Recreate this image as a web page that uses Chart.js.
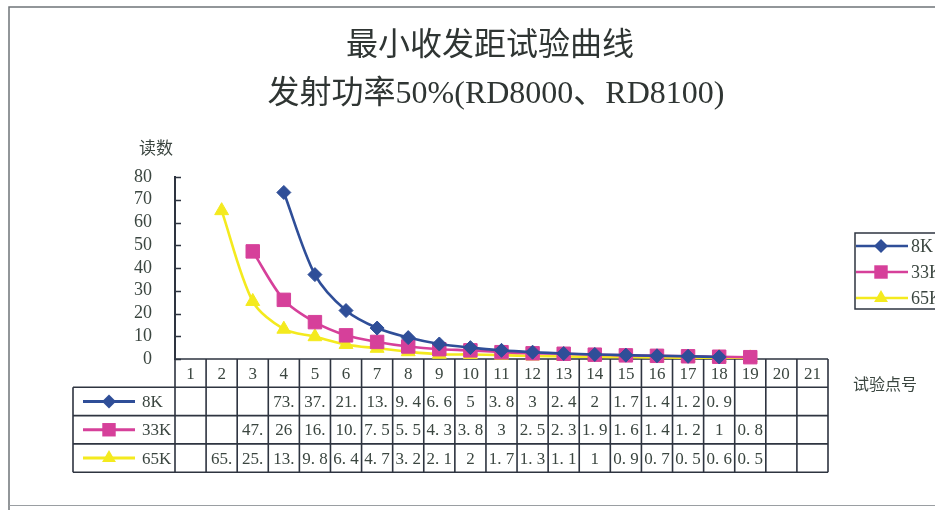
<!DOCTYPE html>
<html>
<head>
<meta charset="utf-8">
<script src="https://cdn.jsdelivr.net/npm/chart.js@4/dist/chart.umd.min.js"></script>
<style>
  html, body { margin: 0; padding: 0; background: #fff; }
  canvas { display: block; }
</style>
</head>
<body>
<canvas id="c" width="935" height="510"></canvas>
<script>
// Test point numbers along the x axis
const categories = ['1','2','3','4','5','6','7','8','9','10','11','12','13','14','15','16','17','18','19','20','21'];

// Readings per receiver
const series8K  = [null, null, null, 73.2, 37.1, 21.3, 13.6, 9.4, 6.6, 5, 3.8, 3, 2.4, 2, 1.7, 1.4, 1.2, 0.9, null, null, null];
const series33K = [null, null, 47.3, 26, 16.2, 10.4, 7.5, 5.5, 4.3, 3.8, 3, 2.5, 2.3, 1.9, 1.6, 1.4, 1.2, 1, 0.8, null, null];
const series65K = [null, 65.2, 25.3, 13.1, 9.8, 6.4, 4.7, 3.2, 2.1, 2, 1.7, 1.3, 1.1, 1, 0.9, 0.7, 0.5, 0.6, 0.5, null, null];
const seriesNames = ['8K', '33K', '65K'];

// Value axis ticks
const yTicks = [0, 10, 20, 30, 40, 50, 60, 70, 80];

const titleLines = ['最小收发距试验曲线', '发射功率50%(RD8000、RD8100)'];
const yAxisName = '读数';
const xAxisName = '试验点号';

const SERIF = '"Liberation Serif", "DejaVu Serif", serif';
const MIXED = '"Liberation Serif", "Noto Sans CJK SC", serif';
const CJK = '"Noto Sans CJK SC", "Noto Sans", sans-serif';
const INK = '#2e3440';
const TEXT = '#3b4640';

const styles = [
  { color: '#2f4e98', point: 'rectRot', radius: 7 },
  { color: '#d6409a', point: 'rect', radius: 9.5 },
  { color: '#f4ea1e', point: 'triangle', radius: 8 }
];

function drawMarker(ctx, style, x, y, r, color) {
  ctx.save();
  ctx.fillStyle = color;
  ctx.beginPath();
  if (style === 'rectRot') {
    ctx.moveTo(x, y - r); ctx.lineTo(x + r, y); ctx.lineTo(x, y + r); ctx.lineTo(x - r, y);
  } else if (style === 'rect') {
    const s = r * Math.SQRT1_2;
    ctx.rect(x - s, y - s, 2 * s, 2 * s);
  } else {
    const w = r * Math.sqrt(3) / 2;
    ctx.moveTo(x, y - r); ctx.lineTo(x + w, y + r / 2); ctx.lineTo(x - w, y + r / 2);
  }
  ctx.closePath();
  ctx.fill();
  ctx.restore();
}

// Cell text: numbers with a wide decimal point, cut to fit the cell width
function cellText(ctx, v, maxW) {
  let s = String(v).replace('.', '. ');
  while (s.length > 1 && ctx.measureText(s).width > maxW) s = s.slice(0, -1);
  return s.trim();
}

const decorPlugin = {
  id: 'decor',
  beforeDraw(chart) {
    const ctx = chart.ctx;
    ctx.save();
    ctx.fillStyle = '#ffffff';
    ctx.fillRect(0, 0, chart.width, chart.height);
    // outer frame
    ctx.strokeStyle = '#6f7478';
    ctx.lineWidth = 1.5;
    ctx.beginPath();
    ctx.moveTo(chart.width, 7); ctx.lineTo(9, 7); ctx.lineTo(9, chart.height);
    ctx.stroke();
    ctx.strokeStyle = '#9a9ea2';
    ctx.lineWidth = 1;
    ctx.beginPath();
    ctx.moveTo(9, 505.5); ctx.lineTo(chart.width, 505.5);
    ctx.stroke();
    ctx.restore();
  },
  beforeDatasetsDraw(chart) {
    const ctx = chart.ctx;
    const xs = chart.scales.x, ys = chart.scales.y;
    const area = chart.chartArea;
    const n = categories.length;
    const cw = (area.right - area.left) / n;
    const y0 = ys.getPixelForValue(0);
    const rowH = 28.3;
    const legendLeft = 73;

    ctx.save();
    // title
    ctx.fillStyle = '#2f3533';
    ctx.textAlign = 'center';
    ctx.textBaseline = 'middle';
    ctx.font = '32px ' + MIXED;
    ctx.fillText(titleLines[0], 490, 47);
    ctx.fillText(titleLines[1], 496, 95);

    // axis names
    ctx.font = '17px ' + CJK;
    ctx.fillStyle = TEXT;
    ctx.textAlign = 'left';
    ctx.fillText(yAxisName, 139, 148);
    ctx.font = '16px ' + CJK;
    ctx.fillText(xAxisName, 853, 384);

    // inward tick marks on the value axis
    ctx.strokeStyle = INK;
    ctx.lineWidth = 1.5;
    ctx.beginPath();
    yTicks.forEach(t => {
      const py = Math.round(ys.getPixelForValue(t)) + 0.5;
      ctx.moveTo(area.left, py); ctx.lineTo(area.left + 6, py);
    });
    ctx.stroke();

    // data table grid
    const rowsBottom = y0 + rowH * 4;
    ctx.lineWidth = 1.6;
    ctx.beginPath();
    ctx.moveTo(area.left, y0); ctx.lineTo(area.right, y0);
    for (let r = 1; r <= 4; r++) {
      const yy = y0 + rowH * r;
      ctx.moveTo(legendLeft, yy); ctx.lineTo(area.right, yy);
    }
    for (let i = 0; i <= n; i++) {
      const xx = i < n ? xs.getPixelForValue(i) - cw / 2 : area.right;
      ctx.moveTo(xx, y0); ctx.lineTo(xx, rowsBottom);
    }
    ctx.moveTo(legendLeft, y0 + rowH); ctx.lineTo(legendLeft, rowsBottom);
    ctx.stroke();

    // header numbers
    ctx.fillStyle = TEXT;
    ctx.textAlign = 'center';
    ctx.font = '17px ' + SERIF;
    categories.forEach((c, i) => {
      ctx.fillText(c, xs.getPixelForValue(i), y0 + rowH / 2 + 1);
    });

    // data rows with legend keys
    const allSeries = [series8K, series33K, series65K];
    allSeries.forEach((vals, r) => {
      const cy = y0 + rowH * (r + 1.5);
      const st = styles[r];
      ctx.strokeStyle = st.color;
      ctx.lineWidth = 3;
      ctx.beginPath();
      ctx.moveTo(83, cy); ctx.lineTo(135, cy);
      ctx.stroke();
      drawMarker(ctx, st.point, 109, cy, st.radius, st.color);
      ctx.fillStyle = TEXT;
      ctx.textAlign = 'left';
      ctx.font = '17px ' + SERIF;
      ctx.fillText(seriesNames[r], 142, cy + 1);
      ctx.textAlign = 'center';
      vals.forEach((v, i) => {
        if (v === null) return;
        ctx.fillText(cellText(ctx, v, cw - 1), xs.getPixelForValue(i), cy + 1);
      });
    });

    // side legend
    ctx.strokeStyle = INK;
    ctx.lineWidth = 1.5;
    ctx.strokeRect(855, 233, 200, 76);
    const ly = [246, 272, 298];
    seriesNames.forEach((name, r) => {
      const st = styles[r];
      ctx.strokeStyle = st.color;
      ctx.lineWidth = 2.5;
      ctx.beginPath();
      ctx.moveTo(856, ly[r]); ctx.lineTo(908, ly[r]);
      ctx.stroke();
      drawMarker(ctx, st.point, 881, ly[r], st.radius, st.color);
      ctx.fillStyle = TEXT;
      ctx.textAlign = 'left';
      ctx.font = '18px ' + SERIF;
      ctx.fillText(name, 911, ly[r] + 1);
    });
    ctx.restore();
  }
};

const datasets = [series8K, series33K, series65K].map((vals, r) => ({
  label: seriesNames[r],
  data: vals,
  borderColor: styles[r].color,
  backgroundColor: styles[r].color,
  borderWidth: 2.6,
  pointStyle: styles[r].point,
  pointRadius: styles[r].radius,
  pointBorderWidth: 1,
  pointBorderColor: styles[r].color,
  tension: 0.3,
  clip: false,
  spanGaps: false
}));

new Chart(document.getElementById('c'), {
  type: 'line',
  data: { labels: categories, datasets },
  options: {
    responsive: false,
    animation: false,
    layout: { padding: { left: 0, top: 177, right: 107, bottom: 151 } },
    plugins: { legend: { display: false }, title: { display: false }, tooltip: { enabled: false } },
    scales: {
      x: {
        type: 'category',
        offset: true,
        display: false
      },
      y: {
        min: 0,
        max: 80,
        afterBuildTicks: s => { s.ticks = yTicks.map(v => ({ value: v })); },
        afterFit: s => { s.width = 175; },
        grid: { display: false },
        border: { display: true, color: INK, width: 2 },
        ticks: {
          autoSkip: false,
          padding: 15,
          color: TEXT,
          font: { family: SERIF, size: 18 }
        }
      }
    }
  },
  plugins: [decorPlugin]
});
</script>
</body>
</html>
